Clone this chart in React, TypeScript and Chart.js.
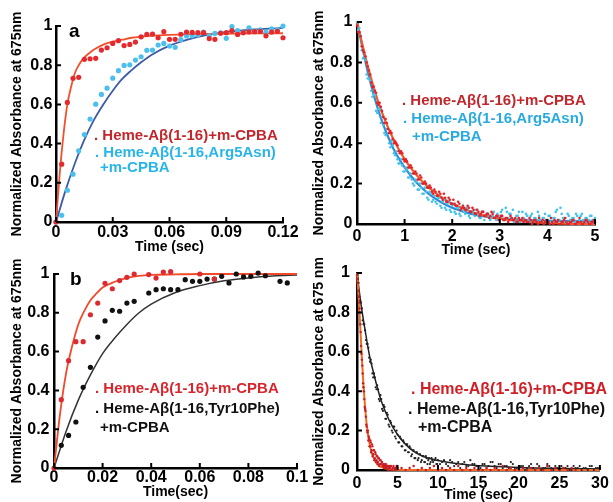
import React, { useEffect, useRef } from "react";
import { Chart, registerables } from "chart.js";

Chart.register(...registerables);

const FONT = '"Liberation Sans", Arial, Helvetica, sans-serif';

// ---------- Panel a (top-left) ----------
const A_TIME = [0,0.003,0.006,0.009,0.012,0.015,0.018,0.021,0.024,0.027,0.03,0.033,0.036,0.039,0.042,0.045,0.048,0.051,0.054,0.057,0.06,0.063,0.066,0.069,0.072,0.075,0.078,0.081,0.084,0.087,0.09,0.093,0.096,0.099,0.102,0.105,0.108,0.111,0.114,0.117,0.12];
const A_WT = [0,0.295,0.61,0.733,0.738,0.83,0.833,0.835,0.877,0.889,0.911,0.925,0.9,0.906,0.918,0.945,0.957,0.959,0.94,0.971,0.932,0.932,0.958,0.969,0.967,0.966,0.966,0.936,0.932,0.963,0.966,0.976,0.957,0.966,0.97,0.971,0.973,0.95,0.969,0.973,0.94];
const A_MUT = [0,0.034,0.162,0.244,0.363,0.446,0.525,0.601,0.651,0.683,0.734,0.772,0.799,0.802,0.826,0.843,0.876,0.877,0.903,0.911,0.898,0.891,0.93,0.949,0.95,0.955,0.969,0.95,0.962,0.965,0.937,0.997,0.976,0.968,0.99,0.975,0.98,0.97,0.986,0.98,1.0];
const A_WT_FIT_T = [0,0.002,0.004,0.006,0.008,0.01,0.012,0.015,0.018,0.021,0.025,0.03,0.035,0.04,0.05,0.06,0.08,0.1,0.12];
const A_WT_FIT = [0,0.25,0.45,0.6,0.69,0.76,0.8,0.84,0.865,0.885,0.905,0.92,0.93,0.94,0.95,0.955,0.96,0.962,0.963];
const A_MUT_FIT_T = [0,0.005,0.01,0.015,0.02,0.025,0.03,0.035,0.04,0.045,0.05,0.06,0.07,0.08,0.09,0.1,0.11,0.12];
const A_MUT_FIT = [0,0.16,0.3,0.42,0.52,0.6,0.67,0.73,0.775,0.815,0.85,0.9,0.932,0.955,0.97,0.979,0.985,0.99];
const A_X_TICKS = [0,0.03,0.06,0.09,0.12];
const A_X_LABELS = ["0","0.03","0.06","0.09","0.12"];

// ---------- Panel top-right ----------
const TR_TIME = [
  0,0.05,0.1,0.15,0.2,0.25,0.3,0.35,0.4,0.45,
  0.5,0.55,0.6,0.65,0.7,0.75,0.8,0.85,0.9,0.95,
  1,1.05,1.1,1.15,1.2,1.25,1.3,1.35,1.4,1.45,
  1.5,1.55,1.6,1.65,1.7,1.75,1.8,1.85,1.9,1.95,
  2,2.05,2.1,2.15,2.2,2.25,2.3,2.35,2.4,2.45,
  2.5,2.55,2.6,2.65,2.7,2.75,2.8,2.85,2.9,2.95,
  3,3.05,3.1,3.15,3.2,3.25,3.3,3.35,3.4,3.45,
  3.5,3.55,3.6,3.65,3.7,3.75,3.8,3.85,3.9,3.95,
  4,4.05,4.1,4.15,4.2,4.25,4.3,4.35,4.4,4.45,
  4.5,4.55,4.6,4.65,4.7,4.75,4.8,4.85,4.9,4.95,
  5];
const TR_WT = [
  0.98,0.95,0.88,0.85,0.8,0.76,0.7,0.68,0.65,0.59,
  0.58,0.53,0.52,0.47,0.46,0.42,0.41,0.39,0.35,0.35,
  0.31,0.31,0.28,0.28,0.25,0.25,0.22,0.23,0.2,0.2,
  0.18,0.18,0.15,0.16,0.14,0.15,0.12,0.13,0.11,0.12,
  0.1,0.1,0.09,0.1,0.08,0.08,0.07,0.08,0.06,0.07,
  0.05,0.06,0.05,0.06,0.04,0.05,0.04,0.05,0.03,0.04,
  0.03,0.04,0.02,0.03,0.02,0.03,0.02,0.01,0.03,0.02,
  0.01,0.02,0.01,0.02,0.01,0.02,0.0,0.01,0.02,0.01,
  0.01,0.0,0.01,0.02,0.01,0.0,0.01,0.02,0.01,0.0,
  0.01,0.02,0.0,0.01,0.01,0.0,0.02,0.01,0.0,0.01,
  0.01];
const TR_MUT = [
  1.0,0.97,0.86,0.83,0.74,0.72,0.66,0.64,0.56,0.57,
  0.5,0.49,0.44,0.45,0.38,0.39,0.34,0.32,0.3,0.29,
  0.26,0.27,0.23,0.22,0.19,0.21,0.17,0.18,0.15,0.16,
  0.12,0.15,0.12,0.11,0.13,0.09,0.11,0.08,0.1,0.07,
  0.09,0.06,0.08,0.05,0.07,0.06,0.08,0.04,0.06,0.05,
  0.07,0.04,0.03,0.06,0.04,0.05,0.02,0.04,0.03,0.05,
  0.03,0.07,0.02,0.06,0.05,0.03,0.01,0.04,0.06,0.02,
  0.03,0.05,0.02,0.04,0.01,0.03,0.06,0.02,0.03,0.05,
  0.02,0.04,0.01,0.03,0.07,0.02,0.05,0.03,0.01,0.04,
  0.02,0.03,0.05,0.01,0.04,0.02,0.03,0.01,0.04,0.02,
  0.03];
const TR_TIME_2 = [
  0.025,0.075,0.125,0.175,0.225,0.275,0.325,0.375,0.425,0.475,
  0.525,0.575,0.625,0.675,0.725,0.775,0.825,0.875,0.925,0.975,
  1.025,1.075,1.125,1.175,1.225,1.275,1.325,1.375,1.425,1.475,
  1.525,1.575,1.625,1.675,1.725,1.775,1.825,1.875,1.925,1.975,
  2.025,2.075,2.125,2.175,2.225,2.275,2.325,2.375,2.425,2.475,
  2.525,2.575,2.625,2.675,2.725,2.775,2.825,2.875,2.925,2.975,
  3.025,3.075,3.125,3.175,3.225,3.275,3.325,3.375,3.425,3.475,
  3.525,3.575,3.625,3.675,3.725,3.775,3.825,3.875,3.925,3.975,
  4.025,4.075,4.125,4.175,4.225,4.275,4.325,4.375,4.425,4.475,
  4.525,4.575,4.625,4.675,4.725,4.775,4.825,4.875,4.925,4.975];
const TR_WT_2 = [
  0.95,0.93,0.86,0.83,0.78,0.74,0.68,0.66,0.6,0.6,
  0.56,0.5,0.5,0.45,0.45,0.4,0.4,0.36,0.36,0.32,
  0.32,0.28,0.29,0.25,0.26,0.22,0.24,0.2,0.21,0.18,
  0.19,0.16,0.17,0.14,0.16,0.13,0.15,0.11,0.13,0.1,
  0.12,0.09,0.11,0.07,0.09,0.07,0.09,0.06,0.08,0.05,
  0.07,0.04,0.06,0.04,0.05,0.03,0.06,0.03,0.04,0.02,
  0.04,0.02,0.03,0.01,0.04,0.02,0.03,0.01,0.02,0.03,
  0.02,0.01,0.03,0.0,0.02,0.01,0.03,0.01,0.0,0.02,
  0.01,0.03,0.0,0.01,0.02,0.0,0.01,0.03,0.0,0.01,
  0.02,0.0,0.01,0.03,0.0,0.01,0.02,0.0,0.01,0.02];
const TR_MUT_2 = [
  0.96,0.93,0.82,0.81,0.72,0.71,0.63,0.64,0.55,0.57,
  0.53,0.45,0.47,0.4,0.41,0.35,0.36,0.3,0.32,0.26,
  0.28,0.23,0.25,0.2,0.22,0.17,0.2,0.15,0.18,0.13,
  0.16,0.11,0.14,0.1,0.13,0.08,0.12,0.07,0.11,0.06,
  0.1,0.05,0.08,0.04,0.09,0.05,0.07,0.03,0.06,0.04,
  0.05,0.03,0.06,0.02,0.05,0.04,0.03,0.06,0.02,0.04,
  0.06,0.02,0.08,0.03,0.05,0.07,0.02,0.04,0.01,0.06,
  0.02,0.04,0.01,0.05,0.03,0.02,0.04,0.01,0.03,0.02,
  0.04,0.01,0.03,0.06,0.02,0.08,0.03,0.01,0.05,0.02,
  0.03,0.01,0.04,0.02,0.05,0.01,0.03,0.02,0.04,0.01];
const TR_FIT_T = [0,0.25,0.5,0.75,1,1.25,1.5,1.75,2,2.25,2.5,2.75,3,3.5,4,4.5,5];
const TR_WT_FIT = [1,0.76,0.567,0.427,0.321,0.242,0.182,0.137,0.1,0.074,0.053,0.038,0.027,0.013,0.005,0.001,0];
const TR_MUT_FIT = [1,0.73,0.525,0.38,0.28,0.205,0.15,0.11,0.08,0.06,0.045,0.035,0.028,0.02,0.016,0.014,0.013];
const TR_X_TICKS = [0,1,2,3,4,5];
const TR_X_LABELS = ["0","1","2","3","4","5"];

// ---------- Panel b (bottom-left) ----------
const B_TIME = [0,0.003,0.006,0.009,0.012,0.015,0.018,0.021,0.024,0.027,0.03,0.033,0.036,0.039,0.042,0.045,0.048,0.051,0.054,0.057,0.06,0.063,0.066,0.069,0.072,0.075,0.078,0.081,0.084,0.087,0.09,0.093,0.096];
const B_WT = [0,0.352,0.553,0.651,0.651,0.79,0.85,0.952,0.924,0.966,0.983,1.0,null,0.997,0.979,1.01,1.012,null,null,null,1.0,null,0.974,null,null,null,null,null,null,null,null,null,null];
const B_MUT = [null,0.117,0.168,0.237,0.416,0.519,0.675,0.758,0.813,0.808,0.85,0.859,null,0.902,0.919,0.924,0.919,0.919,0.971,0.962,0.962,0.974,0.974,0.988,0.954,1.0,0.985,0.988,1.005,0.991,null,0.962,0.954];
const B_WT_FIT_T = [0,0.0025,0.005,0.0075,0.01,0.0125,0.015,0.0175,0.02,0.025,0.03,0.035,0.04,0.05,0.06,0.08,0.1];
const B_WT_FIT = [0,0.28,0.49,0.63,0.74,0.81,0.865,0.9,0.93,0.96,0.98,0.99,0.995,0.998,1,1,1];
const B_MUT_FIT_T = [0,0.005,0.01,0.015,0.02,0.025,0.03,0.035,0.04,0.05,0.06,0.07,0.08,0.09,0.1];
const B_MUT_FIT = [0,0.19,0.35,0.48,0.59,0.67,0.74,0.8,0.845,0.905,0.94,0.965,0.98,0.99,0.995];
const B_X_TICKS = [0,0.02,0.04,0.06,0.08,0.1];
const B_X_LABELS = ["0","0.02","0.04","0.06","0.08","0.1"];

// ---------- Panel bottom-right ----------
const BR_WT_TIME = [
  0,0.1,0.2,0.3,0.4,0.5,0.6,0.7,0.8,0.9,
  1,1.1,1.2,1.3,1.4,1.5,1.6,1.7,1.8,1.9,
  2,2.1,2.2,2.3,2.4,2.5,2.6,2.7,2.8,2.9,
  3,3.1,3.2,3.3,3.4,3.5,3.6,3.7,3.8,3.9,
  4,4.1,4.2,4.3,4.4,4.5,4.6,4.7,4.8,4.9,
  5,
  5.5,6,6.5,7,7.5,8,8.5,9,9.5,10,
  10.5,11,11.5,12,12.5,13,13.5,14,14.5,15,
  15.5,16,16.5,17,17.5,18,18.5,19,19.5,20,
  20.5,21,21.5,22,22.5,23,23.5,24,24.5,25,
  25.5,26,26.5,27];
const BR_WT = [
  0.99,0.95,0.88,0.82,0.74,0.63,0.56,0.49,0.42,0.36,
  0.31,0.27,0.22,0.19,0.15,0.16,0.12,0.14,0.1,0.12,
  0.08,0.1,0.06,0.08,0.05,0.07,0.04,0.06,0.03,0.05,
  0.03,0.04,0.02,0.03,0.02,0.03,0.01,0.02,0.02,0.01,
  0.02,0.01,0.02,0.0,0.01,0.02,0.01,0.0,0.01,0.02,
  0.01,
  0.01,0,0.01,0.02,0,0.01,0,0.01,0.02,0,
  0.01,0,0.01,0,0.02,0,0.01,0,0.01,0,
  0,0.01,0,0.01,0,0.02,0,0.01,0,0,
  0.01,0,0.01,0,0.01,0,0.02,0,0.01,0,
  0.01,0,0.01,0];
const BR_WT_TIME_2 = [
  0.05,0.15,0.25,0.35,0.45,0.55,0.65,0.75,0.85,0.95,
  1.05,1.15,1.25,1.35,1.45,1.55,1.65,1.75,1.85,1.95,
  2.05,2.15,2.25,2.35,2.45,2.55,2.65,2.75,2.85,2.95,
  3.05,3.15,3.25,3.35,3.45,3.55,3.65,3.75,3.85,3.95];
const BR_WT_2 = [
  0.97,0.91,0.85,0.8,0.7,0.59,0.53,0.44,0.4,0.32,
  0.3,0.23,0.2,0.2,0.17,0.12,0.15,0.09,0.13,0.07,
  0.1,0.05,0.09,0.04,0.07,0.03,0.06,0.02,0.05,0.03,
  0.04,0.02,0.03,0.01,0.02,0.03,0.01,0.02,0.0,0.01];
const BR_MUT_TIME = [
  0,0.2,0.4,0.6,0.8,1,1.2,1.4,1.6,1.8,
  2,2.2,2.4,2.6,2.8,3,3.2,3.4,3.6,3.8,
  4,4.2,4.4,4.6,4.8,5,5.2,5.4,5.6,5.8,
  6,6.2,6.4,6.6,6.8,7,7.2,7.4,7.6,7.8,
  8,8.2,8.4,8.6,8.8,9,9.2,9.4,9.6,9.8,
  10,
  10.5,11,11.5,12,12.5,13,13.5,14,14.5,15,
  15.5,16,16.5,17,17.5,18,18.5,19,19.5,20,
  20.5,21,21.5,22,22.5,23,23.5,24,24.5,25,
  25.5,26,26.5,27,27.5,28,28.5,29,29.5,30];
const BR_MUT = [
  0.99,0.95,0.86,0.82,0.74,0.71,0.64,0.62,0.55,0.54,
  0.47,0.47,0.41,0.41,0.35,0.36,0.3,0.32,0.26,0.28,
  0.22,0.24,0.19,0.22,0.16,0.18,0.14,0.16,0.12,0.14,
  0.1,0.13,0.09,0.11,0.08,0.1,0.06,0.09,0.06,0.08,
  0.05,0.07,0.04,0.06,0.05,0.03,0.06,0.04,0.05,0.03,
  0.05,
  0.04,0.03,0.05,0.02,0.04,0.03,0.02,0.05,0.03,0.02,
  0.03,0.01,0.04,0.02,0.03,0.01,0.02,0.04,0.01,0.02,
  0.02,0.01,0.03,0.0,0.02,0.01,0.03,0.01,0.02,0.0,
  0.01,0.02,0.0,0.01,0.02,0.01,0.0,0.02,0.01,0.01];
const BR_MUT_TIME_2 = [
  0.1,0.3,0.5,0.7,0.9,1.1,1.3,1.5,1.7,1.9,
  2.1,2.3,2.5,2.7,2.9,3.1,3.3,3.5,3.7,3.9,
  4.1,4.3,4.5,4.7,4.9,5.1,5.3,5.5,5.7,5.9,
  6.1,6.3,6.5,6.7,6.9,7.1,7.3,7.5,7.7,7.9,
  8.1,8.3,8.5,8.7,8.9,9.1,9.3,9.5,9.7,9.9,
  10.25,10.75,11.25,11.75,12.25,12.75,13.25,13.75,14.25,14.75,
  15.25,15.75,16.25,16.75,17.25,17.75,18.25,18.75,19.25,19.75,
  20.25,20.75,21.25,21.75,22.25,22.75,23.25,23.75,24.25,24.75,
  25.25,25.75,26.25,26.75,27.25,27.75,28.25,28.75,29.25,29.75];
const BR_MUT_2 = [
  0.97,0.88,0.85,0.76,0.74,0.66,0.64,0.57,0.56,0.49,
  0.49,0.42,0.43,0.36,0.38,0.31,0.33,0.26,0.29,0.23,
  0.25,0.2,0.22,0.17,0.2,0.14,0.17,0.12,0.15,0.1,
  0.13,0.09,0.12,0.07,0.1,0.06,0.09,0.05,0.08,0.04,
  0.07,0.04,0.07,0.03,0.06,0.04,0.05,0.02,0.06,0.03,
  0.03,0.05,0.02,0.04,0.03,0.01,0.04,0.02,0.03,0.02,
  0.01,0.03,0.02,0.04,0.01,0.03,0.02,0.01,0.03,0.01,
  0.02,0.0,0.02,0.01,0.03,0.0,0.01,0.02,0.0,0.01,
  0.02,0.01,0.0,0.02,0.01,0.0,0.01,0.02,0.0,0.01];
const BR_WT_FIT_T = [0,0.2,0.4,0.6,0.8,1,1.2,1.4,1.6,1.8,2,2.5,3,4,5,6,8,30];
const BR_WT_FIT = [1,0.88,0.73,0.57,0.43,0.32,0.23,0.17,0.125,0.09,0.067,0.03,0.015,0.004,0.001,0,0,0];
const BR_MUT_FIT_T = [0,0.5,1,1.5,2,2.5,3,4,5,6,7,8,9,10,12,14,16,18,20,22,25,30];
const BR_MUT_FIT = [1,0.84,0.71,0.59,0.5,0.42,0.35,0.25,0.18,0.13,0.095,0.072,0.058,0.048,0.034,0.026,0.02,0.016,0.013,0.01,0.008,0.005];
const BR_X_TICKS = [0,5,10,15,20,25,30];
const BR_X_LABELS = ["0","5","10","15","20","25","30"];

const Y_TICKS = [0,0.2,0.4,0.6,0.8,1];
const Y_LABELS = ["0","0.2","0.4","0.6","0.8","1"];

const LEG_WT = ". Heme-Aβ(1-16)+m-CPBA";
const LEG_R5N = ". Heme-Aβ(1-16,Arg5Asn)";
const LEG_Y10F = ". Heme-Aβ(1-16,Tyr10Phe)";
const LEG_OX = "+m-CPBA";

// ---------- helpers ----------
const pts = (xs: number[], ys: (number | null)[]) =>
  xs.map((x, i) => ({ x, y: ys[i] })).filter((p) => p.y !== null && p.y !== undefined);

const scatterDs = (data: any[], color: string, r: number) => ({
  data, backgroundColor: color, borderColor: color, pointRadius: r, pointHoverRadius: r,
  pointBorderWidth: 0, showLine: false, clip: false, order: 1,
});
const fitDs = (data: any[], color: string, w: number) => ({
  data, borderColor: color, backgroundColor: color, borderWidth: w, pointRadius: 0, pointHoverRadius: 0,
  showLine: true, cubicInterpolationMode: "monotone", fill: false, clip: false, order: 2,
});

type Leg = { text: string; color: string; x: number; y: number; size: number };
type PanelCfg = {
  left: number; top: number; width: number; height: number;
  areaTop: number; areaLeft: number; areaRight: number; areaBottom: number;
  xMax: number; xTicks: number[]; xLabels: string[]; xTitle: string; yTitle: string;
  xTickPad: number; xTitlePad: number; yTickPad: number; yTitlePad: number;
  datasets: any[]; legends: Leg[]; letter?: { text: string; x: number; y: number };
};

function Panel({ cfg }: { cfg: PanelCfg }) {
  const ref = useRef<HTMLCanvasElement>(null);
  useEffect(() => {
    const canvas = ref.current;
    if (!canvas) return;
    const decor = {
      id: "decor",
      afterDraw(chart: any) {
        const ctx = chart.ctx;
        const { left, bottom } = chart.chartArea;
        const xs = chart.scales.x;
        const ys = chart.scales.y;
        ctx.save();
        ctx.strokeStyle = "#000";
        ctx.lineWidth = 2;
        ctx.beginPath();
        xs.ticks.forEach((t: any) => {
          const p = xs.getPixelForValue(t.value);
          ctx.moveTo(p, bottom);
          ctx.lineTo(p, bottom - 5);
        });
        ys.ticks.forEach((t: any) => {
          const p = ys.getPixelForValue(t.value);
          ctx.moveTo(left, p);
          ctx.lineTo(left + 5, p);
        });
        ctx.stroke();
        ctx.textAlign = "left";
        ctx.textBaseline = "middle";
        cfg.legends.forEach((l) => {
          ctx.font = `bold ${l.size}px ${FONT}`;
          ctx.fillStyle = l.color;
          ctx.fillText(l.text, l.x, l.y);
        });
        if (cfg.letter) {
          ctx.font = `bold 19px ${FONT}`;
          ctx.fillStyle = "#000";
          ctx.textBaseline = "alphabetic";
          ctx.fillText(cfg.letter.text, cfg.letter.x, cfg.letter.y);
        }
        ctx.restore();
      },
    };
    const tickFont = { family: FONT, size: 16, weight: "bold" as const };
    const titleFont = { family: FONT, size: 14, weight: "bold" as const };
    const chart = new Chart(canvas, {
      type: "scatter",
      data: { datasets: cfg.datasets },
      options: {
        responsive: false,
        animation: false,
        events: [],
        layout: { padding: { left: 0, top: cfg.areaTop, right: cfg.width - cfg.areaRight, bottom: 0 } },
        plugins: { legend: { display: false }, tooltip: { enabled: false } },
        scales: {
          x: {
            type: "linear", position: "bottom", min: 0, max: cfg.xMax,
            afterBuildTicks: (s: any) => { s.ticks = cfg.xTicks.map((v) => ({ value: v })); },
            afterFit: (s: any) => { s.height = cfg.height - cfg.areaBottom; },
            grid: { display: false, drawTicks: false },
            border: { display: true, color: "#000", width: 2.5 },
            ticks: {
              autoSkip: false, maxRotation: 0, color: "#000", padding: cfg.xTickPad, font: tickFont,
              callback: (_v: any, i: number) => cfg.xLabels[i],
            },
            title: { display: true, text: cfg.xTitle, color: "#000", font: titleFont, padding: { top: 0, bottom: cfg.xTitlePad } },
          },
          y: {
            type: "linear", position: "left", min: 0, max: 1,
            afterBuildTicks: (s: any) => { s.ticks = Y_TICKS.map((v) => ({ value: v })); },
            afterFit: (s: any) => { s.width = cfg.areaLeft; },
            grid: { display: false, drawTicks: false },
            border: { display: true, color: "#000", width: 2.5 },
            ticks: {
              autoSkip: false, color: "#000", padding: cfg.yTickPad, font: tickFont,
              callback: (_v: any, i: number) => Y_LABELS[i],
            },
            title: { display: true, text: cfg.yTitle, color: "#000", font: titleFont, padding: { top: cfg.yTitlePad, bottom: 0 } },
          },
        },
      } as any,
      plugins: [decor],
    });
    return () => chart.destroy();
  }, []);
  return (
    <canvas
      ref={ref}
      width={cfg.width}
      height={cfg.height}
      style={{ position: "absolute", left: cfg.left, top: cfg.top, width: cfg.width, height: cfg.height }}
    />
  );
}

const panelA: PanelCfg = {
  left: 0, top: 0, width: 300, height: 262,
  areaTop: 26, areaLeft: 56, areaRight: 283, areaBottom: 222,
  xMax: 0.12, xTicks: A_X_TICKS, xLabels: A_X_LABELS, xTitle: "Time (sec)",
  yTitle: "Normalized Absorbance at 675nm",
  xTickPad: 0.7, xTitlePad: 6.6, yTickPad: 3.5, yTitlePad: 8.8,
  datasets: [
    scatterDs(pts(A_TIME, A_WT), "#e52a2f", 2.6),
    scatterDs(pts(A_TIME, A_MUT), "#4cc0ec", 2.6),
    fitDs(pts(A_WT_FIT_T, A_WT_FIT), "#f0512a", 1.8),
    fitDs(pts(A_MUT_FIT_T, A_MUT_FIT), "#3d5aa9", 1.8),
  ],
  legends: [
    { text: LEG_WT, color: "#c1272d", x: 94, y: 136, size: 15 },
    { text: LEG_R5N, color: "#29b5e8", x: 95, y: 153, size: 15 },
    { text: LEG_OX, color: "#29b5e8", x: 100, y: 168, size: 15 },
  ],
  letter: { text: "a", x: 69, y: 37 },
};

const panelTR: PanelCfg = {
  left: 300, top: 0, width: 313, height: 262,
  areaTop: 22, areaLeft: 57, areaRight: 295, areaBottom: 224,
  xMax: 5, xTicks: TR_X_TICKS, xLabels: TR_X_LABELS, xTitle: "Time (sec)",
  yTitle: "Normalized Absorbance at 675nm",
  xTickPad: 2.7, xTitlePad: 3, yTickPad: 4.7, yTitlePad: 10.8,
  datasets: [
    scatterDs(pts(TR_TIME, TR_WT), "#e32229", 1.3),
    scatterDs(pts(TR_TIME_2, TR_WT_2), "#e32229", 1.3),
    scatterDs(pts(TR_TIME, TR_MUT), "#45c3ef", 1.3),
    scatterDs(pts(TR_TIME_2, TR_MUT_2), "#45c3ef", 1.3),
    fitDs(pts(TR_FIT_T, TR_WT_FIT), "#f05a28", 2.2),
    fitDs(pts(TR_FIT_T, TR_MUT_FIT), "#2c8ed6", 2.2),
  ],
  legends: [
    { text: LEG_WT, color: "#c1272d", x: 102, y: 100.5, size: 15 },
    { text: LEG_R5N, color: "#29abe2", x: 103, y: 119, size: 15 },
    { text: LEG_OX, color: "#29abe2", x: 112, y: 137, size: 15 },
  ],
};

const panelB: PanelCfg = {
  left: 0, top: 250, width: 320, height: 252,
  areaTop: 24, areaLeft: 54, areaRight: 297, areaBottom: 218,
  xMax: 0.1, xTicks: B_X_TICKS, xLabels: B_X_LABELS, xTitle: "Time(sec)",
  yTitle: "Normalized Absorbance at 675nm",
  xTickPad: 0, xTitlePad: 1.9, yTickPad: 4.5, yTitlePad: 8.8,
  datasets: [
    scatterDs(pts(B_TIME, B_WT), "#dc2a30", 2.6),
    scatterDs(pts(B_TIME, B_MUT), "#111111", 2.6),
    fitDs(pts(B_WT_FIT_T, B_WT_FIT), "#f2492a", 1.8),
    fitDs(pts(B_MUT_FIT_T, B_MUT_FIT), "#333333", 1.5),
  ],
  legends: [
    { text: LEG_WT, color: "#d7262d", x: 95, y: 139, size: 15 },
    { text: LEG_Y10F, color: "#111111", x: 95, y: 159, size: 15 },
    { text: LEG_OX, color: "#111111", x: 100, y: 178, size: 15 },
  ],
  letter: { text: "b", x: 70, y: 35 },
};

const panelBR: PanelCfg = {
  left: 300, top: 250, width: 313, height: 254,
  areaTop: 23, areaLeft: 57, areaRight: 303, areaBottom: 220,
  xMax: 30, xTicks: BR_X_TICKS, xLabels: BR_X_LABELS, xTitle: "Time (sec)",
  yTitle: "Normalized Absorbance at 675 nm",
  xTickPad: 4.2, xTitlePad: 0, yTickPad: 7, yTitlePad: 10.3,
  datasets: [
    scatterDs(pts(BR_WT_TIME, BR_WT), "#c81e25", 1.2),
    scatterDs(pts(BR_WT_TIME_2, BR_WT_2), "#c81e25", 1.2),
    scatterDs(pts(BR_MUT_TIME, BR_MUT), "#222222", 1.1),
    scatterDs(pts(BR_MUT_TIME_2, BR_MUT_2), "#222222", 1.1),
    fitDs(pts(BR_WT_FIT_T, BR_WT_FIT), "#f26a22", 2),
    fitDs(pts(BR_MUT_FIT_T, BR_MUT_FIT), "#222222", 1.5),
  ],
  legends: [
    { text: LEG_WT, color: "#d11f26", x: 111, y: 140, size: 16 },
    { text: LEG_Y10F, color: "#111111", x: 108, y: 160, size: 16 },
    { text: LEG_OX, color: "#111111", x: 118, y: 178, size: 16 },
  ],
};

export default function App() {
  return (
    <div
      style={{
        position: "absolute", left: 0, top: 0, width: 613, height: 502,
        overflow: "hidden", background: "#fff",
      }}
    >
      <Panel cfg={panelA} />
      <Panel cfg={panelTR} />
      <Panel cfg={panelB} />
      <Panel cfg={panelBR} />
    </div>
  );
}
